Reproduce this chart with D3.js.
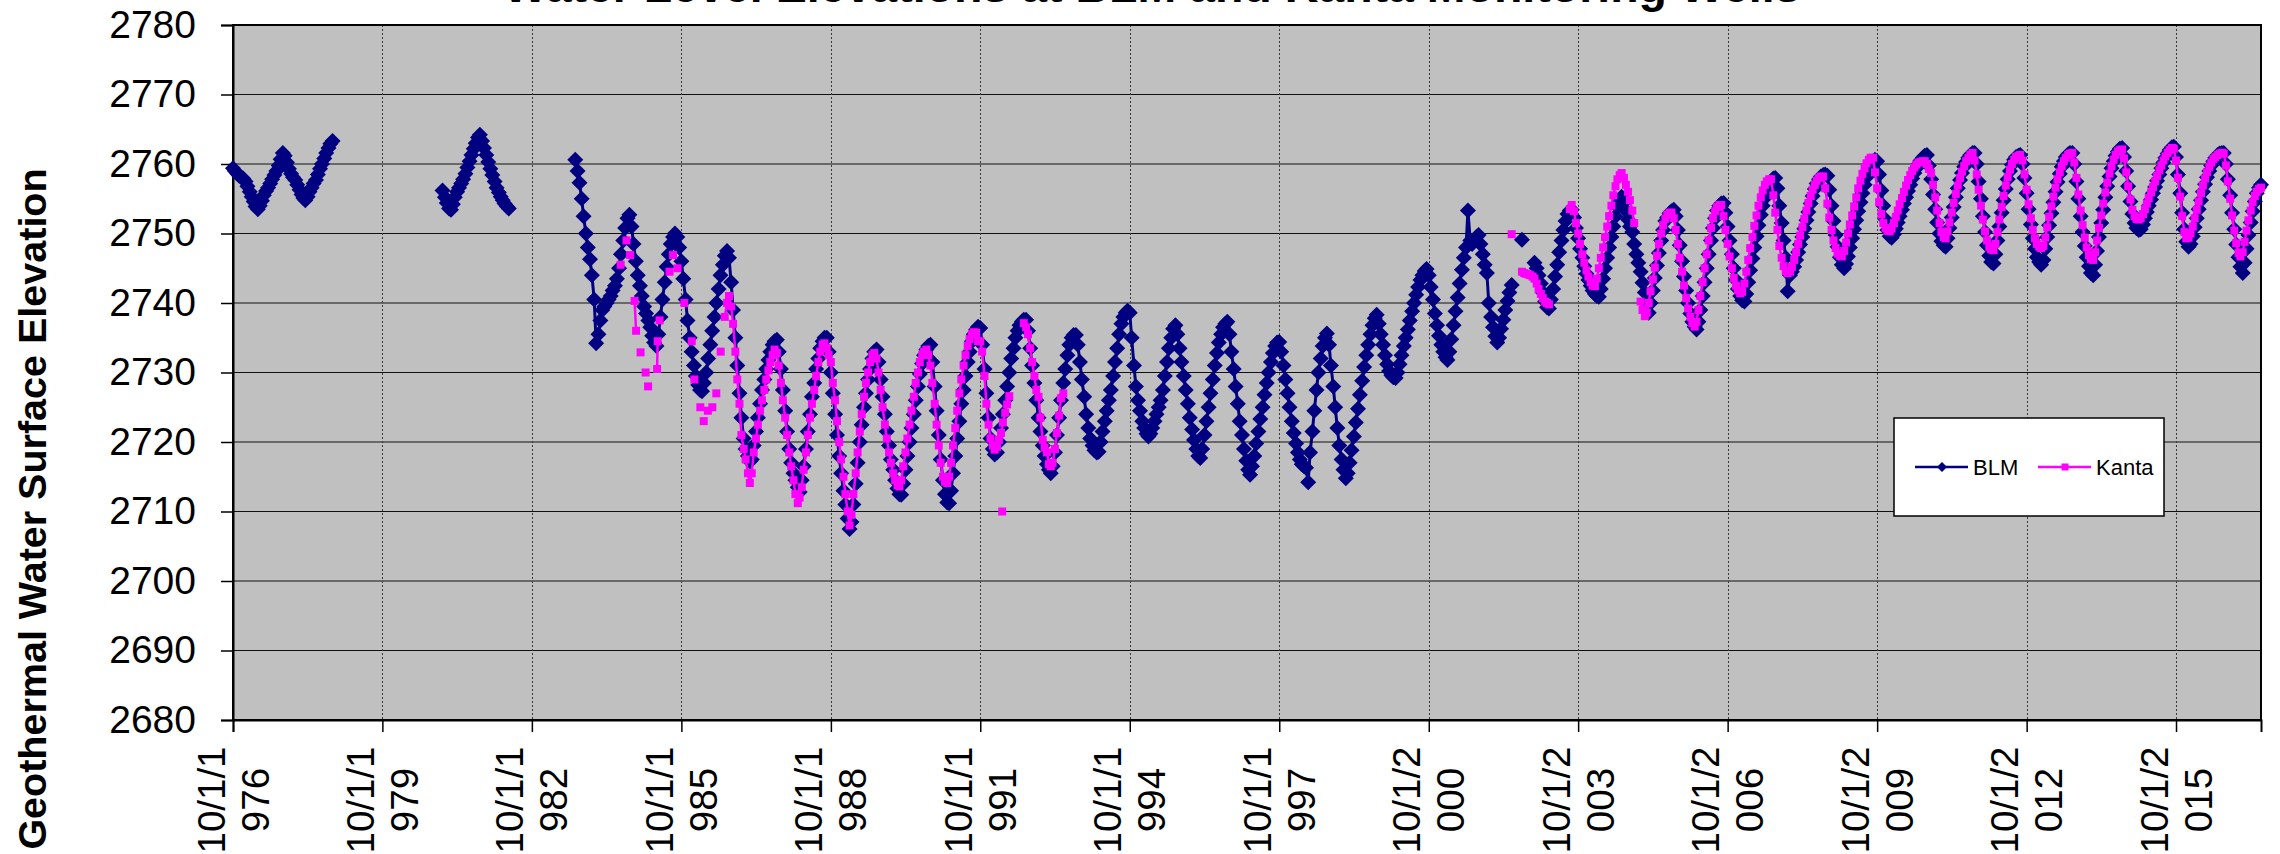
<!DOCTYPE html>
<html lang="en">
  <head>
    <meta charset="UTF-8" />
    <title>Water Level Elevations at BLM and Kanta Monitoring Wells</title>
    <script src="https://d3js.org/d3.v7.min.js"></script>
    <style>
      body { margin: 0; background: #fff; }
      svg { display: block; font-family: "Liberation Sans", Arial, sans-serif; }
    </style>
  </head>
  <body>
    <script>
      var yTicks = [2680, 2690, 2700, 2710, 2720, 2730, 2740, 2750, 2760, 2770, 2780];
      var xTickLabels = ["10/1/1976", "10/1/1979", "10/1/1982", "10/1/1985", "10/1/1988",
        "10/1/1991", "10/1/1994", "10/1/1997", "10/1/2000", "10/1/2003", "10/1/2006",
        "10/1/2009", "10/1/2012", "10/1/2015"];
      var lastReading = "2017-06-15";
      var seriesNames = ["BLM", "Kanta"];

      // BLM well: one reading on the 1st and the 15th of each month, null = no reading.
      // each line is one water year (Oct 1 .. Sep 15)
      var blmStart1976 = "1976-10-01";
      var blm1976 = [
        2759.4, 2759.0, 2758.6, 2758.3, 2758.1, 2757.9, 2757.5, 2756.8, 2756.0, 2755.3, 2754.6, 2753.9,
        2753.5, 2754.0, 2754.7, 2755.5, 2756.1, 2756.6, 2757.2, 2757.8, 2758.4, 2759.0, 2759.8, 2760.7,
        2761.6, 2761.2, 2760.2, 2759.3, 2758.6, 2758.1, 2757.7, 2757.0, 2756.3, 2755.6, 2755.1, 2754.8,
        2755.3, 2756.0, 2756.6, 2757.2, 2757.7, 2758.5, 2759.3, 2760.0, 2760.8, 2761.6, 2762.3, 2762.9,
        2763.3
      ];
      var blmStart1980 = "1980-12-15";
      var blm1980 = [
        2756.2, 2755.2, 2754.4, 2753.6, 2753.4, 2754.2, 2755.2, 2756.0, 2756.6, 2757.2, 2757.8,
        2758.6, 2759.5, 2760.4, 2761.3, 2762.2, 2763.0, 2763.8, 2764.2, 2763.3, 2762.3, 2761.3,
        2760.3, 2759.3, 2758.4, 2757.5, 2756.6, 2755.9, 2755.3, 2754.8, 2754.3, 2753.9, 2753.6
      ];
      var blmStart1983 = "1983-08-15";
      var blm1983 = [
        2760.6, 2759.0, 2757.3,
        2755.0, 2752.5, 2750.0, 2748.0, 2746.3, 2744.0, 2740.5, 2734.2, 2735.5, 2737.5, 2739.0, 2739.5, 2740.0, 2740.5, 2741.0, 2741.8, 2742.5, 2743.5, 2745.0, 2747.0, 2749.0, 2750.8, 2752.2, 2752.7,
        2751.0, 2748.5, 2746.0, 2744.0, 2742.5, 2741.0, 2739.5, 2738.5, 2737.5, 2736.5, 2735.3, 2734.3, 2733.8, 2735.5, 2738.0, 2740.5, 2743.0, 2745.2, 2747.0, 2748.5, 2749.5, 2750.0, 2749.5, 2748.0
      ];
      var blmStart1985 = "1985-10-01";
      var blm1985 = [
        2746.0, 2743.5, 2740.5, 2737.5, 2735.0, 2733.0, 2731.0, 2729.5, 2728.2, 2727.5, 2727.3, 2728.5, 2730.0, 2732.0, 2734.0, 2736.0, 2738.0, 2740.0, 2742.0, 2744.0, 2745.5, 2746.8, 2747.5, 2746.5,
        2743.0, 2739.0, 2735.0, 2731.0, 2727.0, 2723.5, 2720.5, 2719.0, 2718.0, 2717.2, 2717.5, 2719.5, 2721.5, 2723.5, 2725.5, 2727.5, 2729.0, 2730.5, 2731.8, 2733.0, 2734.0, 2734.5, 2734.7, 2733.0,
        2730.5, 2727.5, 2724.5, 2721.5, 2719.0, 2717.0, 2715.5, 2714.5, 2713.5, 2712.8, 2714.5, 2716.5, 2719.0, 2721.5, 2724.0, 2726.5, 2728.5, 2730.5, 2732.0, 2733.5, 2734.5, 2735.0, 2735.0, 2733.0,
        2730.0, 2727.0, 2724.0, 2721.0, 2718.0, 2715.5, 2713.0, 2711.0, 2709.0, 2707.5, 2708.5, 2711.0, 2714.0, 2717.0, 2720.0, 2722.5, 2725.0, 2727.0, 2729.0, 2730.5, 2732.0, 2733.0, 2733.3, 2731.5,
        2729.0, 2726.5, 2724.0, 2721.5, 2719.5, 2717.5, 2716.0, 2714.5, 2713.3, 2712.5, 2712.4, 2714.0, 2716.0, 2718.0, 2720.0, 2722.0, 2724.0, 2726.0, 2728.0, 2729.8, 2731.3, 2732.5, 2733.3, 2733.8
      ];
      var blmStart1990 = "1990-10-01";
      var blm1990 = [
        2734.0, 2731.5, 2728.0, 2724.5, 2721.0, 2717.5, 2714.5, 2712.5, 2711.3, 2711.2, 2713.0, 2715.5, 2718.0, 2720.5, 2723.0, 2725.5, 2727.5, 2729.5, 2731.5, 2733.0, 2734.5, 2735.5, 2736.2, 2736.6,
        2736.4, 2734.0, 2730.5, 2727.0, 2723.5, 2720.5, 2719.0, 2718.2, 2718.5, 2720.0, 2722.0, 2724.0, 2726.0, 2728.0, 2730.0, 2732.0, 2733.5, 2735.0, 2736.0, 2736.8, 2737.3, 2737.6, 2737.6, 2736.0,
        2733.5, 2731.0, 2728.5, 2726.0, 2723.5, 2721.5, 2719.5, 2718.0, 2716.8, 2716.0, 2715.5, 2716.5, 2718.5, 2721.0, 2723.5, 2726.0, 2728.5, 2730.5, 2732.5, 2734.0, 2735.0, 2735.4, 2735.4, 2734.0,
        2731.5, 2729.0, 2726.5, 2724.0, 2722.0, 2720.5, 2719.5, 2718.8, 2718.5, 2718.6, 2720.0, 2721.5, 2723.0, 2724.5, 2726.0, 2727.5, 2729.5, 2731.5, 2733.5, 2735.5, 2737.0, 2738.0, 2738.6, 2738.9,
        2738.6, 2735.0, 2731.0, 2728.0, 2726.0, 2724.5, 2723.0, 2722.0, 2721.2, 2720.8, 2721.2, 2722.0, 2723.0, 2724.0, 2725.0, 2726.0, 2727.5, 2729.5, 2731.5, 2733.5, 2735.0, 2736.3, 2736.8, 2735.5
      ];
      var blmStart1995 = "1995-10-01";
      var blm1995 = [
        2733.5, 2731.5, 2729.5, 2727.5, 2725.5, 2723.5, 2721.8, 2720.3, 2719.0, 2718.0, 2717.7, 2719.0, 2721.0, 2723.0, 2725.0, 2727.0, 2729.0, 2731.0, 2732.8, 2734.3, 2735.5, 2736.5, 2737.0, 2737.3,
        2735.5, 2733.0, 2730.5, 2728.0, 2725.5, 2723.0, 2721.0, 2719.0, 2717.3, 2716.0, 2715.3, 2716.5, 2718.0, 2719.8, 2721.5, 2723.3, 2725.0, 2726.8, 2728.5, 2730.0, 2731.5, 2732.8, 2733.8, 2734.3,
        2734.4, 2733.0, 2731.0, 2729.0, 2727.0, 2725.0, 2723.0, 2721.3, 2719.8, 2718.5, 2717.5, 2716.8, 2716.5, 2716.3, 2714.2, 2718.5, 2721.5, 2724.5, 2727.5, 2730.0, 2732.0, 2733.8, 2735.0, 2735.6,
        2734.0, 2731.0, 2728.0, 2725.0, 2722.0, 2719.5, 2717.5, 2716.0, 2714.8, 2715.5, 2717.0, 2718.8, 2720.8, 2722.8, 2724.8, 2726.8, 2728.8, 2730.8, 2732.5, 2734.0, 2735.5, 2736.8, 2737.8, 2738.3,
        2737.0, 2735.5, 2734.0, 2732.5, 2731.2, 2730.2, 2729.6, 2729.3, 2729.2, 2730.0, 2731.2, 2732.5, 2733.8, 2735.0, 2736.2, 2737.5, 2738.8, 2740.0, 2741.2, 2742.3, 2743.3, 2744.0, 2744.6, 2744.9
      ];
      var blmStart2000 = "2000-10-01";
      var blm2000 = [
        2744.0, 2742.3, 2740.5, 2738.5, 2736.8, 2735.3, 2734.0, 2733.0, 2732.2, 2731.8, 2733.0, 2734.8, 2736.8, 2738.8, 2740.8, 2742.8, 2744.8, 2746.5, 2748.0, 2753.3, 2749.0, 2748.5, 2749.0, 2749.5,
        2749.8, 2748.5, 2747.0, 2745.5, 2744.3, 2740.0, 2738.0, 2736.5, 2735.2, 2734.3, 2735.0, 2736.3, 2737.6, 2739.0, 2740.3, 2741.5, 2742.6, null, null, null, null, 2749.1, null, null,
        null, null, null, 2745.8, 2745.0, 2744.0, 2742.8, 2741.5, 2740.2, 2739.4, 2739.2, 2740.5, 2742.0, 2743.8, 2745.5, 2747.3, 2749.0, 2750.5, 2751.8, 2752.8, 2753.3, 2753.4, 2752.3, 2750.8,
        2749.3, 2747.8, 2746.5, 2745.3, 2744.2, 2743.3, 2742.5, 2741.8, 2741.3, 2741.0, 2740.9, 2742.0, 2743.5, 2745.0, 2746.5, 2748.0, 2749.5, 2751.0, 2752.5, 2753.8, 2754.8, 2755.3, 2754.5, 2753.3,
        2752.0, 2751.0, 2750.2, 2748.5, 2747.0, 2745.8, 2744.5, 2742.9, 2741.5, 2740.0, 2738.6, 2740.0, 2741.8, 2743.6, 2745.4, 2747.2, 2749.0, 2750.5, 2751.8, 2752.3, 2752.9, 2753.2, 2753.4, 2752.5
      ];
      var blmStart2005 = "2005-10-01";
      var blm2005 = [
        2750.5, 2748.3, 2746.0, 2743.8, 2741.8, 2740.0, 2738.5, 2737.3, 2736.6, 2736.2, 2737.3, 2739.0, 2741.0, 2743.0, 2745.0, 2747.0, 2749.0, 2750.8, 2752.2, 2753.3, 2754.0, 2754.3, 2754.4, 2753.0,
        2751.0, 2749.0, 2747.0, 2745.0, 2743.3, 2742.0, 2741.0, 2740.4, 2740.2, 2741.3, 2743.0, 2744.7, 2746.4, 2748.0, 2749.6, 2751.2, 2752.7, 2754.0, 2755.1, 2756.1, 2757.0, 2757.5, 2757.9, 2758.0,
        2756.5, 2754.0, 2751.5, 2749.0, 2746.5, 2741.7, 2744.0, 2744.5, 2745.2, 2746.2, 2747.3, 2748.4, 2749.5, 2750.7, 2751.9, 2753.1, 2754.3, 2755.4, 2756.4, 2757.2, 2757.8, 2758.2, 2758.4, 2758.5,
        2758.3, 2756.3, 2754.0, 2751.8, 2749.8, 2748.1, 2746.6, 2745.5, 2745.0, 2745.6, 2746.7, 2748.0, 2749.3, 2750.6, 2751.9, 2753.2, 2754.5, 2755.8, 2757.0, 2758.1, 2759.0, 2759.8, 2760.3, 2760.6,
        2760.4, 2758.5, 2756.2, 2754.0, 2752.0, 2750.5, 2749.6, 2749.4, 2749.9, 2750.7, 2751.6, 2752.5, 2753.4, 2754.3, 2755.2, 2756.1, 2757.0, 2757.9, 2758.7, 2759.4, 2760.0, 2760.5, 2760.9, 2761.2
      ];
      var blmStart2010 = "2010-10-01";
      var blm2010 = [
        2761.3, 2759.8, 2757.8, 2755.6, 2753.5, 2751.6, 2750.0, 2748.9, 2748.3, 2748.1, 2749.3, 2750.8, 2752.3, 2753.8, 2755.2, 2756.5, 2757.7, 2758.7, 2759.6, 2760.3, 2760.9, 2761.3, 2761.6, 2761.6,
        2760.0, 2757.5, 2755.0, 2752.5, 2750.2, 2748.3, 2746.8, 2745.9, 2745.7, 2747.0, 2749.0, 2751.0, 2753.0, 2754.8, 2756.4, 2757.8, 2759.0, 2759.9, 2760.6, 2761.0, 2761.2, 2761.3, 2760.0, 2758.0,
        2755.8, 2753.5, 2751.3, 2749.3, 2747.8, 2746.6, 2745.9, 2745.5, 2746.2, 2747.8, 2749.5, 2751.2, 2752.9, 2754.5, 2756.0, 2757.4, 2758.6, 2759.6, 2760.4, 2761.0, 2761.4, 2761.6, 2761.6, 2760.0,
        2757.5, 2755.0, 2752.5, 2750.2, 2748.2, 2746.6, 2745.3, 2744.3, 2744.0, 2745.5, 2747.5, 2749.5, 2751.5, 2753.4, 2755.2, 2756.8, 2758.2, 2759.4, 2760.4, 2761.2, 2761.8, 2762.2, 2762.3, 2761.0,
        2759.0, 2756.8, 2754.6, 2752.8, 2751.5, 2750.8, 2750.5, 2750.6, 2751.3, 2752.2, 2753.1, 2754.0, 2754.9, 2755.8, 2756.7, 2757.6, 2758.5, 2759.4, 2760.2, 2760.9, 2761.5, 2762.0, 2762.4, 2762.5,
        2761.0, 2758.5, 2755.8, 2753.0, 2750.6, 2748.8, 2748.1, 2748.5, 2749.6, 2750.9, 2752.2, 2753.5, 2754.8, 2756.0, 2757.1, 2758.1, 2759.0, 2759.8, 2760.4, 2760.9, 2761.3, 2761.5, 2761.6, 2761.6,
        2760.0, 2757.8, 2755.5, 2753.0, 2750.6, 2748.4, 2746.6, 2745.2, 2744.3, 2745.8, 2747.8, 2749.8, 2751.6, 2753.2, 2754.6, 2755.8, 2756.6, 2757.0
      ];

      // Kanta well: scattered early readings (joined only when a few days apart)
      var kantaSparseDates = ["1984-07-13", "1984-08-25", "1984-09-20", "1984-10-23", "1984-11-03",
        "1984-12-06", "1985-01-12", "1985-01-30", "1985-04-06", "1985-04-10", "1985-04-24",
        "1985-07-06", "1985-08-01", "1985-09-03", "1985-10-23", "1985-12-16", "1986-01-04",
        "1986-02-17", "1986-03-14", "1986-04-13", "1986-05-16", "1986-06-14", "1986-07-16",
        "1992-03-10"];
      var kantaSparseValues = [2745.5, 2749.0, 2746.9, 2740.3, 2736.0, 2732.9, 2730.0, 2728.0,
        2730.5, 2734.5, 2737.5, 2744.5, 2746.9, 2745.0, 2740.0, 2734.5, 2729.0, 2725.0, 2723.0,
        2724.5, 2725.0, 2727.0, 2733.0, 2710.0];

      var kantaStart1986 = "1986-08-15";
      var kanta1986 = [
        2738.0, 2740.0, 2741.0,
        2739.5, 2737.0, 2733.0, 2729.0, 2725.5, 2721.0, 2719.0, 2717.5, 2715.5, 2714.1, 2715.5, 2718.5, 2720.5, 2722.5, 2724.5, 2726.0, 2727.5, 2729.0, 2730.3, 2731.5, 2732.5, 2733.3, 2732.8, 2731.0,
        2728.5, 2726.0, 2723.5, 2721.0, 2718.5, 2716.5, 2714.5, 2712.5, 2711.2, 2712.0, 2713.5, 2716.0, 2718.5, 2721.0, 2723.5, 2725.5, 2727.5, 2729.5, 2731.5, 2733.0, 2734.0, 2734.2, 2733.5, 2732.5,
        2731.5, 2728.5, 2726.0, 2723.0, 2720.0, 2717.5, 2715.0, 2712.5, 2710.0, 2708.0, 2709.5, 2712.5, 2715.5, 2718.5, 2721.5, 2724.0, 2726.5, 2728.5, 2730.0, 2731.5, 2732.5, 2732.8, 2732.0, 2730.0,
        2727.5, 2725.0, 2722.5, 2720.5, 2718.5, 2717.0, 2715.5, 2714.5, 2713.8, 2713.6, 2714.5, 2716.5, 2718.5, 2720.5, 2722.5, 2724.5, 2726.5, 2728.5, 2730.0, 2731.5, 2732.5, 2733.0, 2733.3, 2732.5,
        2731.0, 2728.5, 2725.5, 2722.5, 2719.5, 2717.0, 2715.0, 2714.3, 2714.1, 2715.0, 2717.0, 2719.5, 2722.0, 2724.5, 2727.0, 2729.0, 2731.0, 2732.5, 2733.8, 2734.8, 2735.5, 2735.8, 2735.7, 2734.5,
        2734.5, 2733.0, 2729.5, 2725.5, 2722.5, 2720.5, 2719.5, 2718.9, 2719.3, 2720.3, 2721.3, 2722.8, 2724.2, 2725.4, 2726.6, null, null, null, null, null, null, 2737.1, 2736.5, 2735.5,
        2733.5, 2731.5, 2729.5, 2727.5, 2726.5, 2723.5, 2720.3, 2719.2, 2718.5, 2716.8, 2716.5, 2717.0, 2719.0, 2721.3, 2723.8, 2726.3, 2727.0
      ];
      var kantaStart2002 = "2002-06-01";
      var kanta2002 = [
        2749.9, null, null, null, null, 2744.5, 2744.3, 2744.2,
        2744.1, 2744.0, 2743.8, 2743.5, 2742.8, 2742.0, 2741.3, 2740.7, 2740.2, 2740.0, 2739.8, null, null, null, null, null, null, null, null, null, 2753.5, 2754.1, 2753.2, 2751.5,
        2750.0, 2748.5, 2747.0, 2745.8, 2744.7, 2743.8, 2743.0, 2742.5, 2742.4, 2743.5, 2745.0, 2746.5, 2748.0, 2749.5, 2751.0, 2752.5, 2754.0, 2755.5, 2756.8, 2757.8, 2758.4, 2758.7, 2758.0, 2757.0,
        2756.0, 2754.8, 2753.3, 2751.5, null, null, 2740.2, 2739.0, 2738.1, 2738.6, 2740.0, 2741.7, 2743.4, 2745.1, 2746.8, 2748.5, 2750.0, 2751.2, 2752.1, 2752.7, 2753.0, 2753.0, 2752.2, 2750.5,
        2748.5, 2746.5, 2744.5, 2742.5, 2740.7, 2739.2, 2738.0, 2737.1, 2736.6, 2737.3, 2739.0, 2741.0, 2743.0, 2745.0, 2747.0, 2749.0, 2750.8, 2752.2, 2753.2, 2753.8, 2754.1, 2754.1, 2752.5, 2750.5,
        2748.5, 2746.7, 2745.0, 2743.6, 2742.5, 2741.8, 2741.4, 2741.6, 2742.8, 2744.5, 2746.2, 2747.9, 2749.5, 2751.1, 2752.6, 2754.0, 2755.2, 2756.2, 2757.0, 2757.5, 2757.8, 2757.8, 2755.5, 2753.0,
        2750.5, 2748.2, 2746.5, 2745.3, 2744.6, 2744.3, 2744.5, 2745.2, 2746.2, 2747.3, 2748.5, 2749.7, 2750.9, 2752.1, 2753.3, 2754.4, 2755.4, 2756.3, 2757.0, 2757.6, 2758.0, 2758.2, 2758.2, 2756.5,
        2754.3, 2752.3, 2750.5, 2749.0, 2747.9, 2747.1, 2746.8, 2746.7, 2747.5, 2748.7, 2750.0, 2751.3, 2752.6, 2753.9, 2755.2, 2756.5, 2757.6, 2758.6, 2759.4, 2760.1, 2760.6, 2760.9, 2760.9, 2758.8
      ];
      var kantaStart2009 = "2009-10-01";
      var kanta2009 = [
        2756.5, 2754.5, 2752.8, 2751.5, 2750.8, 2750.4, 2750.3, 2750.7, 2751.5, 2752.4, 2753.3, 2754.2, 2755.1, 2756.0, 2756.9, 2757.7, 2758.4, 2759.0, 2759.5, 2759.9, 2760.2, 2760.3, 2760.4, 2760.4,
        2760.0, 2759.3, 2758.7, 2757.0, 2755.2, 2753.3, 2751.5, 2750.2, 2749.5, 2749.3, 2750.3, 2751.6, 2753.0, 2754.4, 2755.7, 2756.9, 2758.0, 2758.9, 2759.7, 2760.4, 2760.9, 2761.3, 2761.6, 2760.5,
        2758.5, 2756.3, 2754.0, 2752.0, 2750.3, 2749.0, 2748.1, 2747.7, 2747.6, 2748.5, 2750.2, 2752.0, 2753.8, 2755.4, 2756.9, 2758.1, 2759.2, 2760.0, 2760.6, 2761.0, 2761.2, 2761.3, 2760.5, 2758.5,
        2756.3, 2754.2, 2752.2, 2750.5, 2749.3, 2748.5, 2748.1, 2747.9, 2748.2, 2749.4, 2750.9, 2752.4, 2753.9, 2755.3, 2756.6, 2757.8, 2758.8, 2759.7, 2760.4, 2760.9, 2761.3, 2761.5, 2761.6, 2760.2,
        2758.0, 2755.6, 2753.3, 2751.2, 2749.4, 2748.0, 2746.9, 2746.3, 2746.2, 2747.3, 2749.0, 2750.8, 2752.6, 2754.3, 2755.9, 2757.3, 2758.6, 2759.7, 2760.6, 2761.3, 2761.8, 2762.0, 2762.1, 2760.8,
        2758.8, 2756.8, 2754.9, 2753.4, 2752.5, 2752.1, 2752.0, 2752.2, 2752.8, 2753.5, 2754.3, 2755.1, 2755.9, 2756.7, 2757.5, 2758.3, 2759.1, 2759.8, 2760.5, 2761.1, 2761.6, 2762.0, 2762.3, 2762.2,
        2760.5, 2758.0, 2755.3, 2752.5, 2750.2, 2749.3, 2749.4, 2750.0, 2751.0, 2752.2, 2753.4, 2754.6, 2755.8, 2756.9, 2757.9, 2758.8, 2759.6, 2760.2, 2760.7, 2761.0, 2761.3, 2761.5, 2761.6, 2761.5,
        2759.8, 2757.5, 2755.0, 2752.6, 2750.4, 2748.6, 2747.2, 2746.7, 2747.3, 2748.8, 2750.4, 2751.9, 2753.3, 2754.5, 2755.4, 2756.0, 2756.4, 2756.6
      ];

      var width = 2280,
        height = 854;
      var plot = { left: 233, right: 2261, top: 25, bottom: 720 };
      var blmColor = "#000080",
        kantaColor = "#ff00ff";

      var parseDay = d3.timeParse("%Y-%m-%d");
      var parseTick = d3.timeParse("%m/%d/%Y");

      // turn a start date and a list of half-month readings into points
      function halfMonthly(start, values) {
        var d0 = parseDay(start);
        var k0 = d0.getDate() >= 15 ? 1 : 0;
        return values.map(function (v, i) {
          var k = k0 + i;
          return {
            date: new Date(d0.getFullYear(), d0.getMonth() + Math.floor(k / 2), k % 2 ? 15 : 1),
            value: v,
          };
        });
      }

      var blmRuns = [
        halfMonthly(blmStart1976, blm1976),
        halfMonthly(blmStart1980, blm1980),
        [].concat(
          halfMonthly(blmStart1983, blm1983),
          halfMonthly(blmStart1985, blm1985),
          halfMonthly(blmStart1990, blm1990),
          halfMonthly(blmStart1995, blm1995),
          halfMonthly(blmStart2000, blm2000),
          halfMonthly(blmStart2005, blm2005),
          halfMonthly(blmStart2010, blm2010)
        ),
      ];
      var kantaRuns = [
        halfMonthly(kantaStart1986, kanta1986),
        [].concat(halfMonthly(kantaStart2002, kanta2002), halfMonthly(kantaStart2009, kanta2009)),
      ];
      var kantaSparse = kantaSparseDates.map(function (d, i) {
        return { date: parseDay(d), value: kantaSparseValues[i] };
      });
      // short pairs of early readings that Excel joined with a line
      var kantaPairs = [];
      for (var i = 1; i < kantaSparse.length; i++) {
        if ((kantaSparse[i].date - kantaSparse[i - 1].date) / 864e5 <= 12) {
          kantaPairs.push([kantaSparse[i - 1], kantaSparse[i]]);
        }
      }

      var tickDates = xTickLabels.map(function (s) {
        return parseTick(s);
      });

      var x = d3
        .scaleTime()
        .domain([tickDates[0], parseDay(lastReading)])
        .range([plot.left, plot.right]);
      var y = d3.scaleLinear().domain([2680, 2780]).range([plot.bottom, plot.top]);

      var svg = d3
        .select("body")
        .append("svg")
        .attr("width", width)
        .attr("height", height);

      // plot area
      svg
        .append("rect")
        .attr("x", plot.left)
        .attr("y", plot.top)
        .attr("width", plot.right - plot.left)
        .attr("height", plot.bottom - plot.top)
        .attr("fill", "#c0c0c0");

      svg
        .append("g")
        .selectAll("line")
        .data(yTicks)
        .enter()
        .append("line")
        .attr("x1", plot.left)
        .attr("x2", plot.right)
        .attr("y1", function (d) {
          return y(d);
        })
        .attr("y2", function (d) {
          return y(d);
        })
        .attr("stroke", "#111")
        .attr("stroke-width", 1.2);

      svg
        .append("g")
        .selectAll("line")
        .data(tickDates.slice(1))
        .enter()
        .append("line")
        .attr("x1", function (d) {
          return Math.round(x(d)) + 0.5;
        })
        .attr("x2", function (d) {
          return Math.round(x(d)) + 0.5;
        })
        .attr("y1", plot.top)
        .attr("y2", plot.bottom)
        .attr("stroke", "#3a3a3a")
        .attr("stroke-width", 1)
        .attr("stroke-dasharray", "2,2");

      svg
        .append("rect")
        .attr("x", plot.left)
        .attr("y", plot.top)
        .attr("width", plot.right - plot.left)
        .attr("height", plot.bottom - plot.top)
        .attr("fill", "none")
        .attr("stroke", "#000")
        .attr("stroke-width", 2);

      // axes
      var yAxis = svg
        .append("g")
        .attr("transform", "translate(" + plot.left + ",0)")
        .call(d3.axisLeft(y).tickValues(yTicks).tickSize(12).tickPadding(25).tickFormat(d3.format("d")));
      yAxis.select(".domain").attr("stroke-width", 2);
      yAxis.selectAll(".tick line").attr("stroke-width", 1.5);
      yAxis
        .selectAll(".tick text")
        .attr("font-family", '"Liberation Sans", Arial, sans-serif')
        .attr("font-size", 39)
        .attr("fill", "#000");

      var xAxis = svg
        .append("g")
        .attr("transform", "translate(0," + plot.bottom + ")")
        .call(d3.axisBottom(x).tickValues(tickDates).tickSize(12).tickFormat(""));
      xAxis.select(".domain").attr("stroke-width", 2);
      xAxis.selectAll(".tick line").attr("stroke-width", 1.5);
      xAxis.selectAll(".tick text").each(function (d, i) {
        var label = xTickLabels[i];
        var t = d3
          .select(this)
          .attr("y", null)
          .attr("dy", null)
          .attr("transform", "translate(0,80) rotate(-90)")
          .attr("text-anchor", "middle")
          .attr("font-family", '"Liberation Sans", Arial, sans-serif')
          .attr("font-size", 38.5)
          .attr("fill", "#000")
          .text(null);
        t.append("tspan").attr("x", 0).attr("y", -9).text(label.slice(0, 6));
        t.append("tspan").attr("x", 0).attr("y", 35).text(label.slice(6));
      });

      // series
      var line = d3
        .line()
        .defined(function (d) {
          return d.value != null;
        })
        .x(function (d) {
          return x(d.date);
        })
        .y(function (d) {
          return y(d.value);
        });

      function hasValue(d) {
        return d.value != null;
      }

      var diamond = "M0,-8L8,0L0,8L-8,0Z";
      var square = "M-4,-4H4V4H-4Z";

      var blmG = svg.append("g");
      blmRuns.forEach(function (run) {
        blmG
          .append("path")
          .attr("d", line(run))
          .attr("fill", "none")
          .attr("stroke", blmColor)
          .attr("stroke-width", 3);
      });
      blmG
        .selectAll(".blm")
        .data([].concat.apply([], blmRuns).filter(hasValue))
        .enter()
        .append("path")
        .attr("class", "blm")
        .attr("d", diamond)
        .attr("transform", function (d) {
          return "translate(" + x(d.date) + "," + y(d.value) + ")";
        })
        .attr("fill", blmColor);

      var kantaG = svg.append("g");
      kantaRuns.concat(kantaPairs).forEach(function (run) {
        kantaG
          .append("path")
          .attr("d", line(run))
          .attr("fill", "none")
          .attr("stroke", kantaColor)
          .attr("stroke-width", 2.5);
      });
      kantaG
        .selectAll(".kanta")
        .data([].concat.apply([], kantaRuns).concat(kantaSparse).filter(hasValue))
        .enter()
        .append("path")
        .attr("class", "kanta")
        .attr("d", square)
        .attr("transform", function (d) {
          return "translate(" + x(d.date) + "," + y(d.value) + ")";
        })
        .attr("fill", kantaColor);

      // legend
      var legend = svg.append("g").attr("transform", "translate(1894,418)");
      legend
        .append("rect")
        .attr("width", 270)
        .attr("height", 98)
        .attr("fill", "#fff")
        .attr("stroke", "#000")
        .attr("stroke-width", 1.5);
      var items = [
        { name: seriesNames[0], color: blmColor, marker: "M0,-5L5,0L0,5L-5,0Z", x: 21 },
        { name: seriesNames[1], color: kantaColor, marker: "M-3.5,-3.5H3.5V3.5H-3.5Z", x: 144 },
      ];
      items.forEach(function (it) {
        legend
          .append("line")
          .attr("x1", it.x)
          .attr("x2", it.x + 53)
          .attr("y1", 49)
          .attr("y2", 49)
          .attr("stroke", it.color)
          .attr("stroke-width", 2.5);
        legend
          .append("path")
          .attr("d", it.marker)
          .attr("transform", "translate(" + (it.x + 27) + ",49)")
          .attr("fill", it.color);
        legend
          .append("text")
          .attr("x", it.x + 58)
          .attr("y", 57)
          .attr("font-size", 22)
          .attr("fill", "#000")
          .text(it.name);
      });

      // titles
      svg
        .append("text")
        .attr("x", 1152)
        .attr("y", 2)
        .attr("text-anchor", "middle")
        .attr("font-size", 46.5)
        .attr("font-weight", "bold")
        .text("Water Level Elevations at BLM and Kanta Monitoring Wells");

      svg
        .append("text")
        .attr("transform", "translate(46,509) rotate(-90)")
        .attr("text-anchor", "middle")
        .attr("font-size", 39.5)
        .attr("font-weight", "bold")
        .text("Geothermal Water Surface Elevation");
    </script>
  </body>
</html>
